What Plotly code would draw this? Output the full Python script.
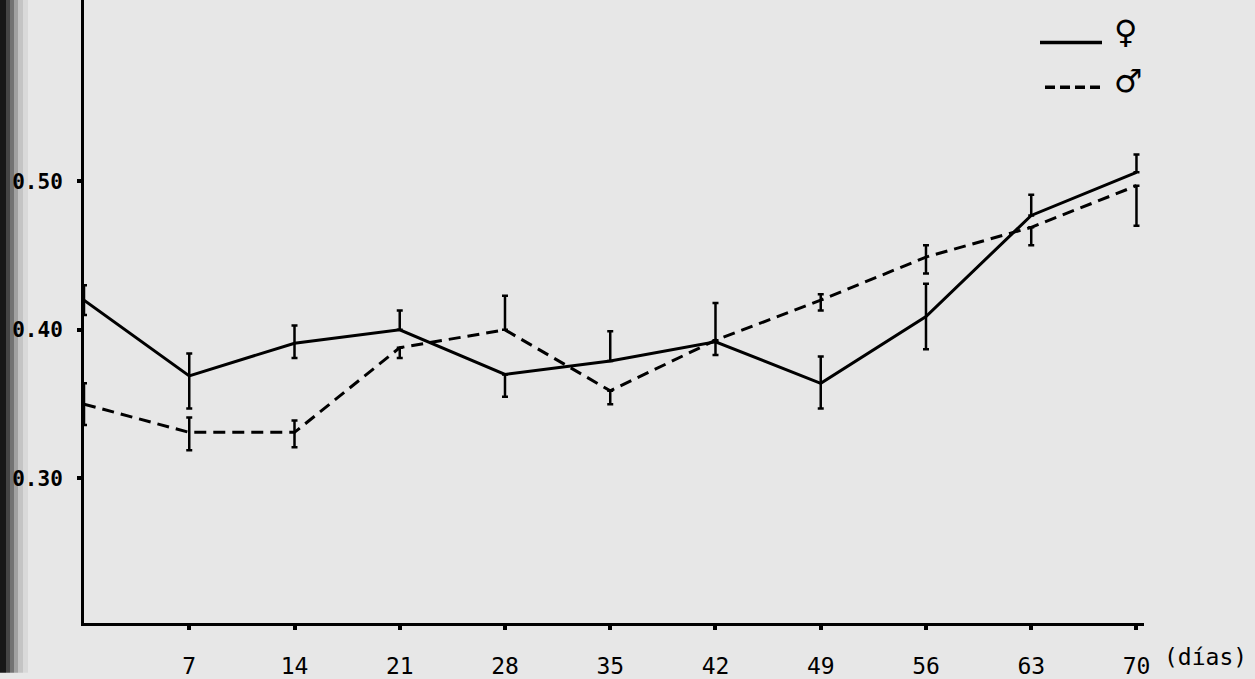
import plotly.graph_objects as go

# ---- data ----
dias = [0, 7, 14, 21, 28, 35, 42, 49, 56, 63, 70]
tick_labels_x = ["7", "14", "21", "28", "35", "42", "49", "56", "63", "70"]
tick_vals_x = [7, 14, 21, 28, 35, 42, 49, 56, 63, 70]
tick_vals_y = [0.30, 0.40, 0.50]
tick_labels_y = ["0.30", "0.40", "0.50"]
legend_labels = ["♀", "♂"]

hembras = [0.420, 0.369, 0.391, 0.400, 0.370, 0.379, 0.392, 0.364, 0.409, 0.477, 0.506]
hembras_plus = [0.010, 0.015, 0.012, 0.013, 0.0, 0.020, 0.026, 0.018, 0.022, 0.014, 0.012]
hembras_minus = [0.010, 0.022, 0.010, 0.0, 0.015, 0.0, 0.0, 0.017, 0.022, 0.0, 0.0]

machos = [0.350, 0.331, 0.331, 0.388, 0.400, 0.359, 0.393, 0.420, 0.449, 0.469, 0.497]
machos_plus = [0.014, 0.010, 0.008, 0.0, 0.023, 0.0, 0.0, 0.004, 0.008, 0.0, 0.0]
machos_minus = [0.014, 0.012, 0.010, 0.007, 0.0, 0.009, 0.010, 0.007, 0.011, 0.012, 0.027]

# ---- layout geometry ----
W, H = 1255, 679
ML, MR, MT, MB = 84, 111, 0, 50
plot_w = W - ML - MR
plot_h = H - MT - MB

def pxx(p):
    return (p - ML) / plot_w

def pxy(p):
    return 1 - (p - MT) / plot_h

DASH = "12px,7px"

fig = go.Figure()

fig.add_trace(go.Scatter(
    x=dias, y=hembras, mode="lines", name=legend_labels[0],
    line=dict(color="black", width=3),
    error_y=dict(type="data", symmetric=False, array=hembras_plus,
                 arrayminus=hembras_minus, color="black", thickness=2.5, width=3),
    showlegend=False,
))
fig.add_trace(go.Scatter(
    x=dias, y=machos, mode="lines", name=legend_labels[1],
    line=dict(color="black", width=3, dash=DASH),
    error_y=dict(type="data", symmetric=False, array=machos_plus,
                 arrayminus=machos_minus, color="black", thickness=2.5, width=3),
    showlegend=False,
))

# legend key (drawn as in the original figure)
fig.add_shape(type="line", xref="paper", yref="paper",
              x0=pxx(1040), x1=pxx(1102), y0=pxy(43), y1=pxy(43),
              line=dict(color="black", width=3.5))
fig.add_shape(type="line", xref="paper", yref="paper",
              x0=pxx(1045), x1=pxx(1100), y0=pxy(88), y1=pxy(88),
              line=dict(color="black", width=3.5, dash="10px,5px"))
for lab, yc in zip(legend_labels, [32, 82]):
    fig.add_annotation(x=pxx(1112), y=pxy(yc), xref="paper", yref="paper",
                       text=lab, showarrow=False, xanchor="left", yanchor="middle",
                       font=dict(family="DejaVu Sans", size=32, color="black"))

# (días) label after last tick
fig.add_annotation(
    x=70, y=0, xref="x", yref="paper", text="(días)", showarrow=False,
    xanchor="left", yanchor="middle", xshift=26, yshift=-34,
    font=dict(family="DejaVu Sans Mono", size=23, color="black"),
)

# dark scanned left edge
edge = [(0, 6, 0.9), (6, 10, 0.7), (10, 14, 0.5), (14, 18, 0.3), (18, 23, 0.15), (23, 28, 0.06)]
for a, b, op in edge:
    fig.add_shape(type="rect", xref="paper", yref="paper",
                  x0=pxx(a), x1=pxx(b), y0=-0.08, y1=1.0,
                  fillcolor="black", opacity=op, line=dict(width=0), layer="below")

fig.update_layout(
    width=W, height=H,
    margin=dict(l=ML, r=MR, t=MT, b=MB),
    paper_bgcolor="#e7e7e7", plot_bgcolor="#e7e7e7",
    showlegend=False,
    xaxis=dict(range=[0, 70.5], showgrid=False, zeroline=False,
               showline=True, linecolor="black", linewidth=3,
               tickvals=tick_vals_x, ticktext=tick_labels_x,
               ticks="outside", ticklen=4, tickwidth=4, tickcolor="black",
               ticklabelstandoff=16,
               tickfont=dict(family="DejaVu Sans Mono", size=23, color="black")),
    yaxis=dict(range=[0.2027, 0.622], showgrid=False, zeroline=False,
               showline=True, linecolor="black", linewidth=3,
               tickvals=tick_vals_y, ticktext=tick_labels_y,
               ticks="outside", ticklen=4, tickwidth=4, tickcolor="black",
               ticklabelstandoff=10,
               tickfont=dict(family="DejaVu Sans Mono", size=21, color="black", weight="bold")),
)

fig.write_html("out.html")
